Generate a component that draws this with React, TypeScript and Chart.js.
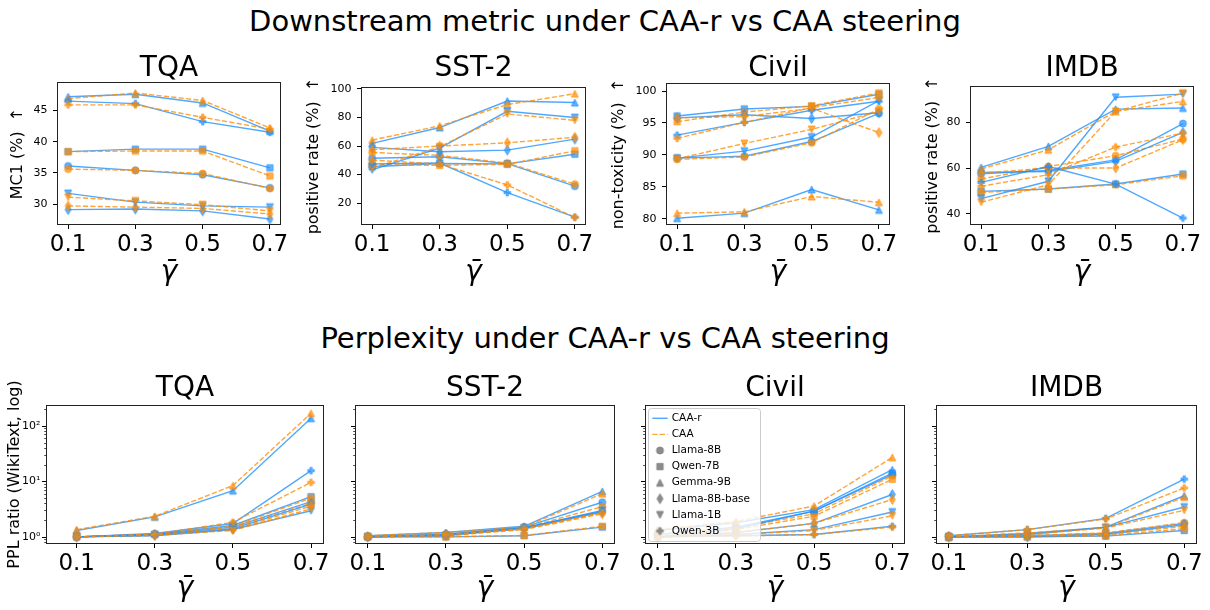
import React, { useEffect, useRef } from 'react';
import { Chart, registerables } from 'chart.js';

Chart.register(...registerables);

const FONT = "'DejaVu Sans', sans-serif";
Chart.defaults.font.family = FONT;
Chart.defaults.color = '#000';

// ---------------- data ----------------
const GAMMAS = [0.1, 0.3, 0.5, 0.7];
const X_TICKS = [0.1, 0.3, 0.5, 0.7];
const METHODS = ['CAA-r', 'CAA'];
const MODELS = ['Llama-8B', 'Qwen-7B', 'Gemma-9B', 'Llama-8B-base', 'Llama-1B', 'Qwen-3B'];
const MARKERS = ['o', 's', '^', 'd', 'v', 'P'];

const TQA_YTICKS = [30, 35, 40, 45];
const SST2_YTICKS = [20, 40, 60, 80, 100];
const CIVIL_YTICKS = [80, 85, 90, 95, 100];
const IMDB_YTICKS = [40, 60, 80];
const PPL_MAJOR = [1, 10, 100];
const PPL_MINOR = [0.8, 0.9, 2, 3, 4, 5, 6, 7, 8, 9, 20, 30, 40, 50, 60, 70, 80, 90, 200];
const PPL_LABELS: Record<number, string> = { 1: '10⁰', 10: '10¹', 100: '10²' };

// rows follow MODELS order; columns follow GAMMAS
const TQA_CAAR = [
  [36.1, 35.4, 34.7, 32.6],
  [38.4, 38.8, 38.8, 35.8],
  [47.2, 47.6, 46.2, 41.7],
  [29.1, 29.2, 28.9, 27.6],
  [31.7, 30.3, 29.7, 29.5],
  [46.5, 46.1, 43.2, 41.5],
];
const TQA_CAA = [
  [35.6, 35.4, 34.9, 32.5],
  [38.4, 38.5, 38.5, 34.5],
  [46.9, 47.8, 46.6, 42.2],
  [29.7, 29.5, 29.3, 28.4],
  [31.1, 30.5, 29.9, 28.9],
  [45.9, 45.9, 43.9, 42.0],
];
const SST2_CAAR = [
  [51.5, 52.5, 47.7, 31.9],
  [45.5, 47.8, 47.5, 54.3],
  [61.9, 73.0, 91.6, 90.5],
  [59.1, 56.0, 57.2, 64.9],
  [43.3, 58.5, 84.4, 80.0],
  [47.5, 48.1, 27.4, 10.2],
];
const SST2_CAA = [
  [55.5, 53.5, 48.1, 33.3],
  [47.0, 46.5, 47.2, 56.7],
  [64.2, 74.2, 89.1, 96.7],
  [57.5, 60.0, 62.3, 66.2],
  [44.5, 59.5, 82.5, 78.0],
  [50.2, 47.4, 32.8, 10.0],
];
const CIVIL_CAAR = [
  [89.5, 89.8, 92.1, 96.5],
  [96.1, 97.2, 97.6, 99.5],
  [80.1, 80.9, 84.6, 81.4],
  [95.8, 96.3, 95.7, 96.6],
  [89.5, 90.6, 92.8, 98.5],
  [93.1, 95.1, 97.0, 98.4],
];
const CIVIL_CAA = [
  [89.3, 89.7, 91.9, 97.2],
  [95.2, 96.7, 97.7, 99.7],
  [80.9, 81.1, 83.5, 82.6],
  [95.8, 96.0, 97.3, 93.5],
  [89.4, 91.8, 94.0, 96.8],
  [92.6, 95.1, 97.4, 99.0],
];
const IMDB_CAAR = [
  [57.5, 59.0, 63.6, 79.5],
  [49.8, 50.8, 53.0, 57.4],
  [60.3, 69.5, 85.8, 86.3],
  [58.1, 58.5, 62.9, 75.6],
  [46.6, 54.2, 91.0, 92.4],
  [53.7, 60.7, 53.0, 38.1],
];
const IMDB_CAA = [
  [55.2, 60.7, 65.4, 72.7],
  [49.3, 50.8, 52.7, 56.6],
  [59.6, 68.0, 84.8, 89.2],
  [57.8, 60.0, 60.0, 72.4],
  [45.0, 52.7, 84.8, 92.8],
  [52.0, 57.1, 69.2, 75.3],
];
const PPL_TQA_CAAR = [
  [1.0, 1.1, 1.5, 4.3],
  [1.0, 1.12, 1.6, 5.3],
  [1.3, 2.29, 6.8, 137],
  [1.0, 1.08, 1.4, 3.9],
  [1.0, 1.05, 1.35, 2.95],
  [1.0, 1.15, 1.74, 15.6],
];
const PPL_TQA_CAA = [
  [1.0, 1.12, 1.5, 4.0],
  [1.0, 1.1, 1.55, 5.0],
  [1.35, 2.35, 8.4, 169],
  [1.0, 1.06, 1.35, 3.6],
  [1.0, 1.07, 1.3, 3.2],
  [1.0, 1.12, 1.83, 9.6],
];
const PPL_SST2_CAAR = [
  [1.0, 1.12, 1.5, 4.2],
  [1.0, 1.0, 1.05, 1.5],
  [1.05, 1.2, 1.55, 6.6],
  [1.0, 1.08, 1.4, 2.8],
  [1.0, 1.05, 1.45, 3.0],
  [1.0, 1.1, 1.45, 2.9],
];
const PPL_SST2_CAA = [
  [1.0, 1.1, 1.45, 3.5],
  [1.0, 1.0, 1.06, 1.55],
  [1.05, 1.2, 1.5, 6.0],
  [1.0, 1.05, 1.35, 2.6],
  [1.0, 1.05, 1.4, 2.75],
  [1.0, 1.1, 1.4, 2.7],
];
const PPL_CIVIL_CAAR = [
  [1.1, 1.5, 2.9, 13.2],
  [1.0, 1.4, 2.9, 14.1],
  [1.3, 1.8, 3.1, 16.2],
  [1.0, 1.2, 1.75, 5.8],
  [1.0, 1.1, 1.35, 2.8],
  [1.0, 1.05, 1.1, 1.55],
];
const PPL_CIVIL_CAA = [
  [1.1, 1.45, 2.6, 12.6],
  [1.0, 1.35, 2.35, 10.9],
  [1.35, 1.9, 3.6, 27],
  [1.0, 1.2, 1.75, 4.7],
  [1.0, 1.1, 1.3, 2.4],
  [1.0, 1.03, 1.1, 1.5],
];
const PPL_IMDB_CAAR = [
  [1.0, 1.05, 1.15, 1.75],
  [1.0, 1.0, 1.03, 1.3],
  [1.0, 1.15, 1.5, 5.5],
  [1.0, 1.0, 1.1, 1.65],
  [1.0, 1.1, 1.48, 3.45],
  [1.05, 1.35, 2.15, 11],
];
const PPL_IMDB_CAA = [
  [1.0, 1.05, 1.18, 1.8],
  [1.0, 1.0, 1.05, 1.4],
  [1.0, 1.18, 1.45, 5.2],
  [1.0, 1.03, 1.1, 1.55],
  [1.0, 1.1, 1.45, 3.0],
  [1.05, 1.35, 2.1, 7.6],
];

// ---------------- styling ----------------
const BLUE = 'rgba(30,144,255,0.78)';
const ORANGE = 'rgba(255,140,0,0.78)';
const BLUE_M = 'rgba(30,144,255,0.7)';
const ORANGE_M = 'rgba(255,140,0,0.7)';
const GRAY_M = 'rgba(128,128,128,0.9)';
const DASH = [5.2, 2.2];

type Panel = {
  key: string;
  title: string;
  ylabel: string | null;
  ylabelX: number;
  plot: number[];
  titleY: number;
  xlabelY: number;
  xMin: number;
  xMax: number;
  yMin: number;
  yMax: number;
  log: boolean;
  yTicks: number[];
  yMinor: number[];
  showYLabels: boolean;
  caar: number[][];
  caa: number[][];
  legend: boolean;
};

const TOP_T = 69;
const BOT_T = 389;
const TOP_XL = 272.5;
const BOT_XL = 588.5;

const PANELS: Panel[] = [
  { key: 'tqa', title: 'TQA', ylabel: 'MC1 (%)  ↑', ylabelX: 17.5, plot: [58, 83, 280, 224], titleY: TOP_T, xlabelY: TOP_XL,
    xMin: 0.07, xMax: 0.73, yMin: 26.8, yMax: 49.4, log: false, yTicks: TQA_YTICKS, yMinor: [], showYLabels: true,
    caar: TQA_CAAR, caa: TQA_CAA, legend: false },
  { key: 'sst2', title: 'SST-2', ylabel: 'positive rate (%)  ↑', ylabelX: 314, plot: [362, 88, 585, 224], titleY: TOP_T, xlabelY: TOP_XL,
    xMin: 0.07, xMax: 0.73, yMin: 5.4, yMax: 100.7, log: false, yTicks: SST2_YTICKS, yMinor: [], showYLabels: true,
    caar: SST2_CAAR, caa: SST2_CAA, legend: false },
  { key: 'civil', title: 'Civil', ylabel: 'non-toxicity (%)  ↑', ylabelX: 619, plot: [667, 84, 889, 224], titleY: TOP_T, xlabelY: TOP_XL,
    xMin: 0.07, xMax: 0.73, yMin: 79.2, yMax: 101.1, log: false, yTicks: CIVIL_YTICKS, yMinor: [], showYLabels: true,
    caar: CIVIL_CAAR, caa: CIVIL_CAA, legend: false },
  { key: 'imdb', title: 'IMDB', ylabel: 'positive rate (%)  ↑', ylabelX: 933, plot: [971, 87, 1193, 224], titleY: TOP_T, xlabelY: TOP_XL,
    xMin: 0.07, xMax: 0.73, yMin: 35.5, yMax: 95.5, log: false, yTicks: IMDB_YTICKS, yMinor: [], showYLabels: true,
    caar: IMDB_CAAR, caa: IMDB_CAA, legend: false },
  { key: 'ppl_tqa', title: 'TQA', ylabel: 'PPL ratio (WikiText, log)', ylabelX: 14.5, plot: [47, 406, 323, 543], titleY: BOT_T, xlabelY: BOT_XL,
    xMin: 0.024, xMax: 0.7307, yMin: 0.775, yMax: 228, log: true, yTicks: PPL_MAJOR, yMinor: PPL_MINOR, showYLabels: true,
    caar: PPL_TQA_CAAR, caa: PPL_TQA_CAA, legend: false },
  { key: 'ppl_sst2', title: 'SST-2', ylabel: null, ylabelX: 0, plot: [356, 406, 614, 543], titleY: BOT_T, xlabelY: BOT_XL,
    xMin: 0.07, xMax: 0.73, yMin: 0.775, yMax: 228, log: true, yTicks: PPL_MAJOR, yMinor: PPL_MINOR, showYLabels: false,
    caar: PPL_SST2_CAAR, caa: PPL_SST2_CAA, legend: false },
  { key: 'ppl_civil', title: 'Civil', ylabel: null, ylabelX: 0, plot: [646, 406, 904, 543], titleY: BOT_T, xlabelY: BOT_XL,
    xMin: 0.07, xMax: 0.73, yMin: 0.775, yMax: 228, log: true, yTicks: PPL_MAJOR, yMinor: PPL_MINOR, showYLabels: false,
    caar: PPL_CIVIL_CAAR, caa: PPL_CIVIL_CAA, legend: true },
  { key: 'ppl_imdb', title: 'IMDB', ylabel: null, ylabelX: 0, plot: [937, 406, 1196, 543], titleY: BOT_T, xlabelY: BOT_XL,
    xMin: 0.07, xMax: 0.73, yMin: 0.775, yMax: 228, log: true, yTicks: PPL_MAJOR, yMinor: PPL_MINOR, showYLabels: false,
    caar: PPL_IMDB_CAAR, caa: PPL_IMDB_CAA, legend: false },
];

function makeMarker(shape: string, color: string, ms = 7): HTMLCanvasElement {
  const size = Math.ceil(ms * 1.5) + 4;
  const c = document.createElement('canvas');
  c.width = size;
  c.height = size;
  const g = c.getContext('2d') as CanvasRenderingContext2D;
  const cx = size / 2;
  const cy = size / 2;
  const h = ms / 2;
  g.beginPath();
  if (shape === 'o') {
    g.arc(cx, cy, h, 0, Math.PI * 2);
  } else if (shape === 's') {
    g.rect(cx - h * 0.9, cy - h * 0.9, ms * 0.9, ms * 0.9);
  } else if (shape === '^') {
    g.moveTo(cx, cy - h);
    g.lineTo(cx + h, cy + h);
    g.lineTo(cx - h, cy + h);
    g.closePath();
  } else if (shape === 'v') {
    g.moveTo(cx, cy + h);
    g.lineTo(cx + h, cy - h);
    g.lineTo(cx - h, cy - h);
    g.closePath();
  } else if (shape === 'd') {
    const dy = ms * 0.707;
    const dx = ms * 0.707 * 0.6;
    g.moveTo(cx, cy - dy);
    g.lineTo(cx + dx, cy);
    g.lineTo(cx, cy + dy);
    g.lineTo(cx - dx, cy);
    g.closePath();
  } else {
    const pts = [[-1, -3], [1, -3], [1, -1], [3, -1], [3, 1], [1, 1], [1, 3], [-1, 3], [-1, 1], [-3, 1], [-3, -1], [-1, -1]];
    pts.forEach(([px, py], i) => {
      const X = cx + (px / 6) * ms * 0.95;
      const Y = cy + (py / 6) * ms * 0.95;
      if (i === 0) g.moveTo(X, Y);
      else g.lineTo(X, Y);
    });
    g.closePath();
  }
  g.fillStyle = color;
  g.fill();
  g.lineWidth = 1;
  g.strokeStyle = color;
  g.stroke();
  return c;
}

function PanelChart({ p }: { p: Panel }) {
  const ref = useRef<HTMLCanvasElement>(null);
  const [l, t, r, b] = p.plot;
  const YT_LH = 16 * 1.2;
  const T_LH = 28 * 0.8;
  const XT_LH = 28 * 1.2;
  const cLeft = p.ylabel ? Math.floor(p.ylabelX - YT_LH / 2 - 1) : l - 30;
  const cTop = Math.floor(p.titleY - T_LH / 2 - 2);
  const cBottom = Math.min(610, Math.ceil(p.xlabelY + XT_LH / 2 + 2));
  const cRight = r + 25;
  const W = cRight - cLeft;
  const H = cBottom - cTop;

  useEffect(() => {
    const canvas = ref.current as HTMLCanvasElement;
    const mk = MARKERS.map((m) => ({ blue: makeMarker(m, BLUE_M), orange: makeMarker(m, ORANGE_M), gray: makeMarker(m, GRAY_M) }));
    const list: any[] = [];
    MODELS.forEach((name, mi) => {
      list.push({
        label: name + ' ' + METHODS[0],
        data: p.caar[mi].map((y, i) => ({ x: GAMMAS[i], y })),
        borderColor: BLUE, backgroundColor: BLUE, borderWidth: 1.4, borderDash: [],
        pointStyle: mk[mi].blue, pointRadius: 3.5, pointHoverRadius: 3.5, tension: 0, fill: false, clip: false,
      });
      list.push({
        label: name + ' ' + METHODS[1],
        data: p.caa[mi].map((y, i) => ({ x: GAMMAS[i], y })),
        borderColor: ORANGE, backgroundColor: ORANGE, borderWidth: 1.4, borderDash: DASH,
        pointStyle: mk[mi].orange, pointRadius: 3.5, pointHoverRadius: 3.5, tension: 0, fill: false, clip: false,
      });
    });
    list.reverse();

    const titlePadTop = p.titleY - T_LH / 2 - cTop;
    const titlePadBottom = t - cTop - titlePadTop - T_LH;
    const ytPadTop = p.ylabel ? p.ylabelX - YT_LH / 2 - cLeft : 0;
    const xtPadBottom = cBottom - p.xlabelY - XT_LH / 2;

    const deco = {
      id: 'deco',
      afterDatasetsDraw(chart: any) {
        const ctx = chart.ctx as CanvasRenderingContext2D;
        const a = chart.chartArea;
        ctx.save();
        if (p.log) {
          const ys = chart.scales.y;
          const tick = (v: number, len: number, w: number) => {
            if (v < p.yMin || v > p.yMax) return;
            const y = Math.round(ys.getPixelForValue(v)) + 0.5;
            ctx.beginPath();
            ctx.lineWidth = w;
            ctx.strokeStyle = '#000';
            ctx.moveTo(a.left - len, y);
            ctx.lineTo(a.left, y);
            ctx.stroke();
          };
          PPL_MAJOR.forEach((v) => tick(v, 5, 1));
          PPL_MINOR.forEach((v) => tick(v, 2.8, 0.7));
        }
        ctx.lineWidth = 1;
        ctx.strokeStyle = '#222';
        ctx.strokeRect(Math.round(a.left) - 0.5, Math.round(a.top) - 0.5, Math.round(a.right - a.left) + 1, Math.round(a.bottom - a.top) + 1);
        if (p.legend) {
          const x0 = a.left + 2.5;
          const y0 = a.top + 2.5;
          ctx.beginPath();
          (ctx as any).roundRect(x0, y0, 112, 133, 3);
          ctx.fillStyle = 'rgba(255,255,255,0.8)';
          ctx.fill();
          ctx.strokeStyle = '#cccccc';
          ctx.lineWidth = 1;
          ctx.stroke();
          ctx.font = '10.5px ' + FONT;
          ctx.textBaseline = 'middle';
          ctx.textAlign = 'left';
          const items: any[] = [
            { kind: 'line', color: BLUE, dash: [], label: METHODS[0] },
            { kind: 'line', color: ORANGE, dash: DASH, label: METHODS[1] },
            ...MODELS.map((m, i) => ({ kind: 'marker', img: mk[i].gray, label: m })),
          ];
          items.forEach((it, i) => {
            const cy = a.top + 12.3 + i * 16.1;
            if (it.kind === 'line') {
              ctx.beginPath();
              ctx.setLineDash(it.dash);
              ctx.strokeStyle = it.color;
              ctx.lineWidth = 1.4;
              ctx.moveTo(a.left + 6.3, cy);
              ctx.lineTo(a.left + 21.7, cy);
              ctx.stroke();
              ctx.setLineDash([]);
            } else {
              ctx.drawImage(it.img, a.left + 14 - it.img.width / 2, cy - it.img.height / 2);
            }
            ctx.fillStyle = '#000';
            ctx.fillText(it.label, a.left + 25.7, cy);
          });
        }
        ctx.restore();
      },
    };

    const yTickVals = [...p.yTicks, ...p.yMinor].filter((v) => v >= p.yMin && v <= p.yMax).sort((x, y) => x - y);

    const chart = new Chart(canvas, {
      type: 'line',
      data: { datasets: list },
      options: {
        responsive: false,
        maintainAspectRatio: false,
        animation: false,
        devicePixelRatio: 1,
        events: [],
        layout: { padding: { left: 0, top: 0, right: cRight - r, bottom: 0 }, autoPadding: false },
        plugins: {
          legend: { display: false },
          tooltip: { enabled: false },
          title: {
            display: true, text: p.title, color: '#000', fullSize: false,
            font: { family: FONT, size: 28, weight: 'normal', lineHeight: 0.8 },
            padding: { top: titlePadTop, bottom: titlePadBottom },
          },
        },
        scales: {
          x: {
            type: 'linear', position: 'bottom', min: p.xMin, max: p.xMax,
            afterBuildTicks: (s: any) => { s.ticks = X_TICKS.map((v) => ({ value: v })); },
            afterFit: (s: any) => { s.height = cBottom - b; s.paddingLeft = 0; s.paddingRight = 0; },
            grid: { display: true, drawOnChartArea: false, drawTicks: true, tickLength: 5, tickColor: '#000', tickWidth: 1 },
            border: { display: false },
            ticks: {
              autoSkip: false, maxRotation: 0, minRotation: 0, padding: 2.7, color: '#000',
              font: { family: FONT, size: 23, lineHeight: 1.2 },
              callback: (v: any) => Number(v).toFixed(1),
            },
            title: {
              display: true, text: 'γ̄', color: '#000',
              font: { family: FONT, size: 28, style: 'italic', lineHeight: 1.2 },
              padding: { top: 0, bottom: xtPadBottom },
            },
          },
          y: {
            type: p.log ? 'logarithmic' : 'linear', position: 'left', min: p.yMin, max: p.yMax,
            afterBuildTicks: (s: any) => { s.ticks = yTickVals.map((v) => ({ value: v })); },
            afterFit: (s: any) => { s.width = l - cLeft; s.paddingTop = 0; s.paddingBottom = 0; },
            grid: { display: true, drawOnChartArea: false, drawTicks: true, tickLength: 5, tickColor: p.log ? 'rgba(0,0,0,0)' : '#000', tickWidth: 1 },
            border: { display: false },
            ticks: {
              autoSkip: false, padding: p.log ? 1.5 : 5.5, color: '#000',
              font: { family: FONT, size: 11, lineHeight: 1.2 },
              callback: (v: any) => {
                if (!p.showYLabels) return '';
                if (p.log) return PPL_LABELS[Number(v)] || '';
                return String(v);
              },
            },
            title: p.ylabel
              ? { display: true, text: p.ylabel, color: '#000', font: { family: FONT, size: 16, lineHeight: 1.2 }, padding: { top: ytPadTop, bottom: 0 } }
              : { display: false },
          },
        },
      } as any,
      plugins: [deco],
    });
    return () => chart.destroy();
  }, []);

  return (
    <canvas
      ref={ref}
      width={W}
      height={H}
      style={{ position: 'absolute', left: cLeft, top: cTop, width: W, height: H }}
    />
  );
}

const supStyle = (top: number): React.CSSProperties => ({
  position: 'absolute', left: 0, top, width: 1210, textAlign: 'center',
  fontFamily: FONT, fontSize: 29, lineHeight: '29px', color: '#000', whiteSpace: 'nowrap',
});

export default function App() {
  return (
    <div style={{ position: 'fixed', left: 0, top: 0, width: 1210, height: 610, background: '#fff', overflow: 'hidden' }}>
      <div style={supStyle(6.5)}>Downstream metric under CAA-r vs CAA steering</div>
      <div style={supStyle(323.5)}>Perplexity under CAA-r vs CAA steering</div>
      {PANELS.map((p) => (
        <PanelChart key={p.key} p={p} />
      ))}
    </div>
  );
}
